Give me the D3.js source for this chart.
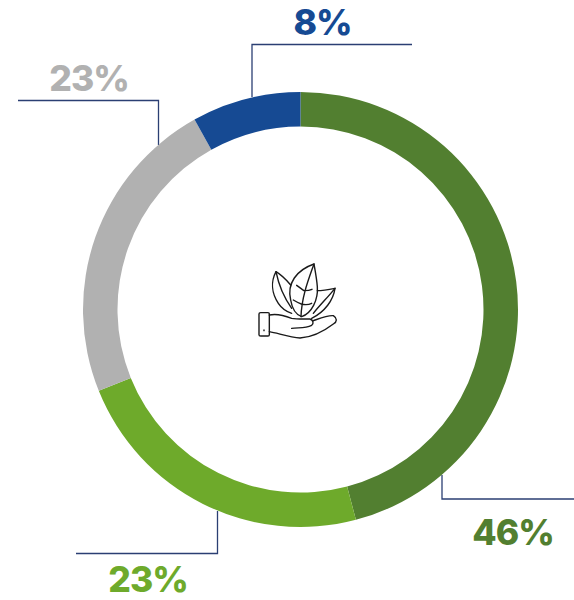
<!DOCTYPE html>
<html><head><meta charset="utf-8">
<script src="https://cdn.jsdelivr.net/npm/d3@7"></script>
<style>html,body{margin:0;padding:0;background:#fff}svg{display:block}</style>
</head><body><svg id="c" width="574" height="600"></svg>
<script>
const categories = ["A","B","C","D"];
const values = [45.9,23,23,8.1];
const labels = ["46%","23%","23%","8%"];
const colors = ["#527f30","#6eaa2b","#b1b1b1","#164a93"];
const leaderColor = "#2b3f73";
const leaders = [
  [[442,475],[442,499],[574,499]],
  [[217.5,511],[217.5,553.5],[76,553.5]],
  [[158.5,145],[158.5,100.5],[18,100.5]],
  [[252,97],[252,44.5],[412,44.5]]
];
const labelPos = [[513,544.5],[148,592],[89,90.5],[322.5,35]];
const cx=300.5, cy=309.5, rO=217.5, rI=183;

const svg=d3.select("#c");
const line=d3.line();
svg.selectAll("path.leader").data(leaders).join("path")
  .attr("class","leader").attr("d",line).attr("fill","none")
  .attr("stroke",leaderColor).attr("stroke-width",1.3);

const pie=d3.pie().sort(null).value(d=>d)(values);
const arc=d3.arc().innerRadius(rI).outerRadius(rO);
svg.append("g").attr("transform",`translate(${cx},${cy})`)
  .selectAll("path").data(pie).join("path")
  .attr("d",arc).attr("fill",(d,i)=>colors[i]);

svg.selectAll("text.lab").data(labels).join("text")
  .attr("class","lab").text(d=>d)
  .attr("x",(d,i)=>labelPos[i][0]).attr("y",(d,i)=>labelPos[i][1])
  .attr("text-anchor","middle").attr("fill",(d,i)=>colors[i])
  .attr("font-family","Inter, sans-serif").attr("font-weight",800)
  .attr("letter-spacing",-1).attr("font-size",35.5);

const icon=[
 "M222,42 C170,60 140,100 152,150 C157,180 170,195 185,200 C215,190 235,150 232,110 C230,85 225,60 222,42 Z",
 "M222,42 C205,90 185,140 183,200",
 "M170,106 C178,112 186,118 192,122 M216,118 C208,122 200,122 192,122 M160,150 C170,156 178,160 184,162 M215,160 C205,165 195,165 184,162",
 "M152,105 C135,85 120,72 108,65 C92,95 95,130 115,160 C125,175 140,185 155,190",
 "M108,65 C115,100 130,140 155,175",
 "M232,122 C250,122 270,118 285,115 C280,150 255,185 215,205",
 "M285,115 C265,140 240,165 220,190",
 "M62,188 H84 Q88,188 88,192 V254 Q88,258 84,258 H62 Q57,258 57,254 V192 Q57,188 62,188 Z",
 "M88,195 C110,190 130,195 155,205 C170,208 195,207 210,207 C220,210 222,220 215,226 C195,236 175,232 155,235",
 "M220,212 C240,205 265,195 280,197 C292,205 292,215 280,222 C250,245 215,262 180,264 C150,262 115,250 88,245",
 "M72,240 L72,242"
];
svg.append("g").attr("transform","translate(240,250) scale(0.3333)")
  .selectAll("path").data(icon).join("path")
  .attr("d",d=>d).attr("fill","none").attr("stroke","#1a1a1a")
  .attr("stroke-width",4.2).attr("stroke-linecap","round").attr("stroke-linejoin","round");
</script></body></html>
